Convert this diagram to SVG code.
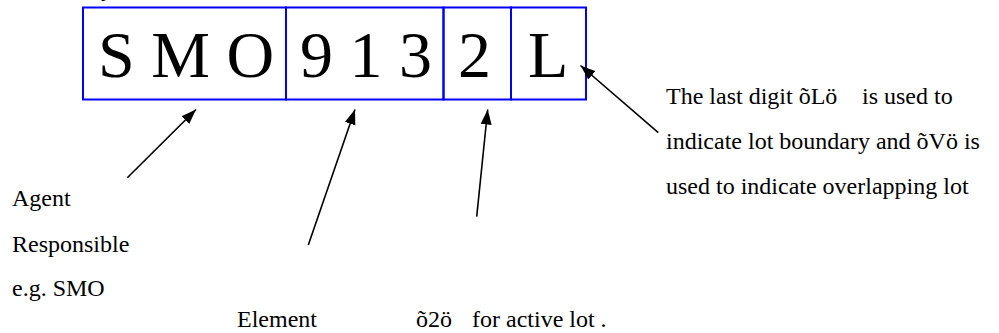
<svg xmlns="http://www.w3.org/2000/svg" width="999" height="333" viewBox="0 0 999 333">
  <style>
    .cell { fill: none; stroke: #0000ff; stroke-width: 2; }
    .code { font-family: "Liberation Serif", "Times New Roman", serif; font-size: 66px; fill: #000; }
    .label { font-family: "Liberation Serif", "Times New Roman", serif; font-size: 24px; fill: #000; }
    .conn { stroke: #000; stroke-width: 1.6; fill: none; marker-end: url(#arrow); }
  </style>
  <defs>
    <marker id="arrow" markerUnits="userSpaceOnUse" markerWidth="16" markerHeight="12" refX="15" refY="6" orient="auto">
      <path d="M0,0.5 L15,6 L0,11.5 Z" fill="#000"/>
    </marker>
  </defs>
  <rect width="999" height="333" fill="#fff"/>

  <!-- clipped descender of a heading above the frame -->
  <text class="label" x="101" y="-4">y</text>

  <!-- code "SMO 913 2 L" split into its fields -->
  <g id="field-agent">
    <rect class="cell" x="83" y="7.5" width="203" height="92"/>
    <text class="code" x="98" y="77">S M O</text>
  </g>
  <g id="field-element">
    <rect class="cell" x="286" y="7.5" width="157.5" height="92"/>
    <text class="code" x="300" y="77">9 1 3</text>
  </g>
  <g id="field-status">
    <rect class="cell" x="443.5" y="7.5" width="67.5" height="92"/>
    <text class="code" x="458" y="77">2</text>
  </g>
  <g id="field-lot">
    <rect class="cell" x="511" y="7.5" width="75" height="92"/>
    <text class="code" x="528" y="77">L</text>
  </g>

  <!-- explanatory notes -->
  <g id="note-agent">
    <text class="label" x="12" y="206">Agent</text>
    <text class="label" x="12" y="252">Responsible</text>
    <text class="label" x="12" y="296">e.g. SMO</text>
  </g>
  <g id="note-element">
    <text class="label" x="237" y="327">Element</text>
  </g>
  <g id="note-status">
    <text class="label" y="327"><tspan x="416">õ2ö</tspan><tspan x="472">for active lot .</tspan></text>
  </g>
  <g id="note-lot">
    <text class="label" y="103.5"><tspan x="666">The last digit õLö</tspan><tspan x="862">is used to</tspan></text>
    <text class="label" x="666" y="148.5">indicate lot boundary and õVö is</text>
    <text class="label" x="666" y="193.5">used to indicate overlapping lot</text>
  </g>

  <!-- pointers from notes to fields -->
  <g id="connectors">
    <line class="conn" x1="127.3" y1="177.7" x2="196" y2="109.5"/>
    <line class="conn" x1="308.3" y1="245" x2="355" y2="109.5"/>
    <line class="conn" x1="476.7" y1="216.7" x2="487.7" y2="109.5"/>
    <line class="conn" x1="658.3" y1="132.7" x2="580.5" y2="65.5"/>
  </g>
</svg>
